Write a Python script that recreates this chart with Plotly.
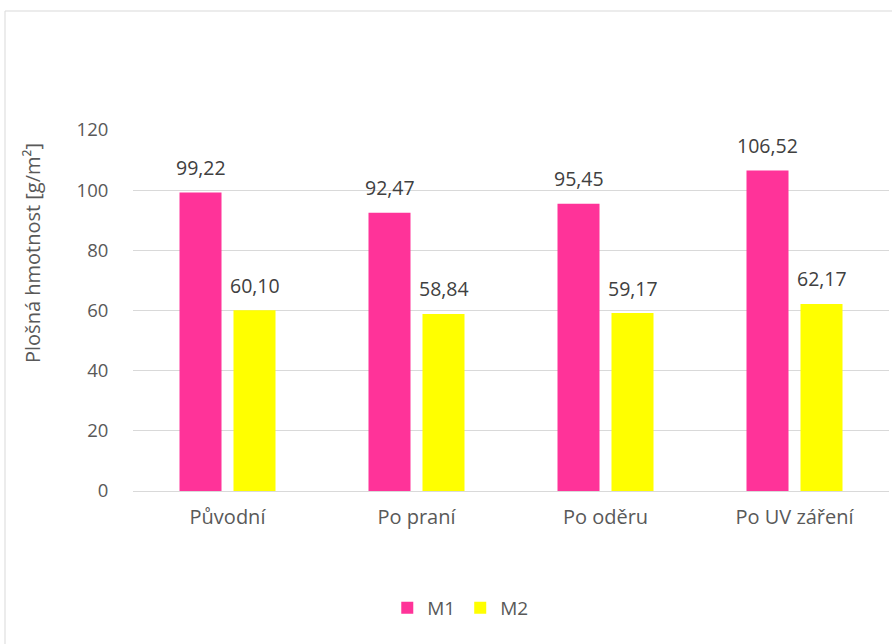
import plotly.graph_objects as go

categories = ["Původní", "Po praní", "Po oděru", "Po UV záření"]
m1_values = [99.22, 92.47, 95.45, 106.52]
m2_values = [60.10, 58.84, 59.17, 62.17]
series_names = ["M1", "M2"]
series_colors = ["#FF3399", "#FFFF00"]
y_ticks = [0, 20, 40, 60, 80, 100, 120]
y_title = "Plošná hmotnost [g/m²]"

FONT = "Open Sans"
GREY = "#595959"

fig = go.Figure()
for name, vals, col in zip(series_names, [m1_values, m2_values], series_colors):
    fig.add_trace(go.Bar(x=categories, y=vals, name=name, marker_color=col,
                         marker_line_width=0))

def fmt(v):
    return f"{v:.2f}".replace(".", ",")

annotations = []
for shift, vals in zip([-27, 27], [m1_values, m2_values]):
    for c, v in zip(categories, vals):
        annotations.append(dict(x=c, y=v, xref="x", yref="y", text=fmt(v),
                                showarrow=False, xshift=shift, yshift=25,
                                yanchor="middle",
                                font=dict(family=FONT, size=19.5, color="#404040")))
annotations.append(dict(text=y_title, xref="paper", yref="paper",
                        x=(32 - 133) / 756, y=(491 - 253) / 361,
                        xanchor="center", yanchor="middle", textangle=-90,
                        showarrow=False,
                        font=dict(family=FONT, size=20, color=GREY)))

fig.update_layout(
    width=892, height=644,
    margin=dict(l=133, r=3, t=130, b=153),
    paper_bgcolor="white", plot_bgcolor="white",
    barmode="group", bargap=0.4286, bargroupgap=0.222,
    font=dict(family=FONT, size=18, color=GREY),
    showlegend=True,
    legend=dict(orientation="h", xref="container", yref="container",
                x=0.516, xanchor="center", y=0.056, yanchor="middle",
                font=dict(family=FONT, size=19, color=GREY),
                itemwidth=30, tracegroupgap=0),
    annotations=annotations,
    shapes=[dict(type="rect", xref="paper", yref="paper",
                 x0=(5 - 133) / 756, x1=1.2, y0=-1.0, y1=(491 - 11) / 361,
                 line=dict(color="#D9D9D9", width=1), layer="below")],
)
fig.update_xaxes(showline=True, linecolor="#D9D9D9", linewidth=1,
                 ticks="outside", ticklen=8, tickcolor="rgba(0,0,0,0)",
                 tickfont=dict(family=FONT, size=20, color=GREY), showgrid=False)
fig.update_yaxes(range=[0, 120], tickvals=y_ticks, showgrid=True,
                 gridcolor="#D9D9D9", gridwidth=1, zeroline=False,
                 ticks="outside", ticklen=20, tickcolor="rgba(0,0,0,0)",
                 tickfont=dict(family=FONT, size=18.5, color=GREY))

fig.write_html("out.html")
